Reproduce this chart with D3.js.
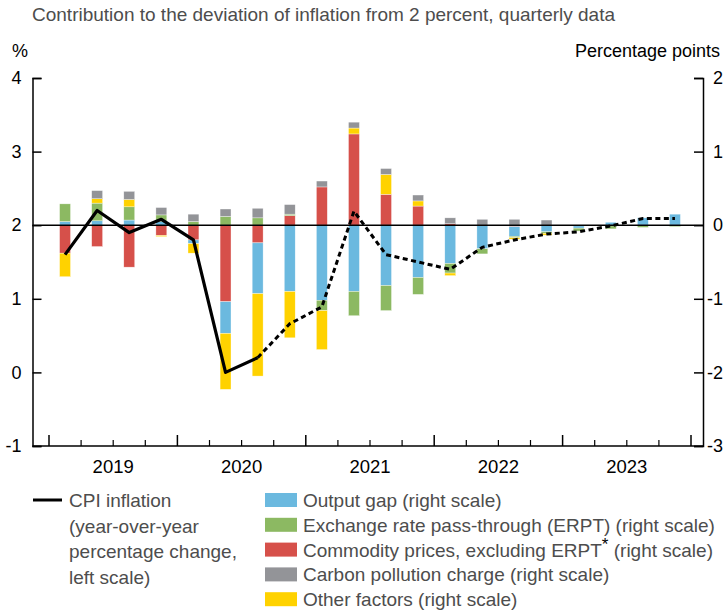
<!DOCTYPE html>
<html>
<head>
<meta charset="utf-8">
<script src="https://cdn.jsdelivr.net/npm/d3@7"></script>
<style>
  body { margin: 0; background: #fff; }
  svg { font-family: "Liberation Sans", Arial, sans-serif; }
</style>
</head>
<body>
<div id="chart"></div>
<script>
// quarters 2019Q1 .. 2023Q4
const quarters = []
for (let y = 2019; y <= 2023; y++) for (let q = 1; q <= 4; q++) quarters.push(`${y}Q${q}`)
const years = ['2019', '2020', '2021', '2022', '2023']

// right scale, percentage points
const outputGap = [0.05, 0.06, 0.07, 0.05, -0.05, -0.43, -0.69, -0.90, -1.02, -0.90,
  -0.82, -0.71, -0.52, -0.32, -0.13, -0.09, -0.03, 0.04, 0.10, 0.15]
const erpt = [0.24, 0.24, 0.18, 0.09, 0.05, 0.12, 0.10, 0.02, -0.14, -0.33,
  -0.34, -0.23, -0.13, -0.07, -0.02, -0.02, -0.04, -0.04, -0.03, -0.02]
const commodity = [-0.38, -0.29, -0.57, -0.14, -0.20, -1.04, -0.24, 0.13, 0.52, 1.24,
  0.42, 0.26, 0.02, 0, -0.02, 0, -0.01, -0.01, 0, 0]
const carbon = [0, 0.11, 0.11, 0.10, 0.10, 0.10, 0.13, 0.13, 0.08, 0.08,
  0.08, 0.08, 0.08, 0.08, 0.08, 0.07, 0, 0, 0, 0]
const other = [-0.32, 0.06, 0.10, -0.015, -0.13, -0.76, -1.12, -0.63, -0.53, 0.08,
  0.27, 0.07, -0.035, 0, -0.02, -0.025, 0, 0, 0, 0]

// left scale, y/y %
const cpi = [1.6, 2.2, 1.9, 2.08, 1.8, 0.0, 0.2, 0.66, 0.89, 2.19,
  1.6, 1.5, 1.4, 1.7, 1.8, 1.88, 1.91, 1.99, 2.09, 2.09]
const lastActual = 6 // 2020Q3, projection after

const leftTicks = [-1, 0, 1, 2, 3, 4]
const rightTicks = [-3, -2, -1, 0, 1, 2]

const series = [
  { key: 'commodity', values: commodity, color: '#d6504a' },
  { key: 'outputGap', values: outputGap, color: '#6bb9df' },
  { key: 'erpt', values: erpt, color: '#8cb962' },
  { key: 'other', values: other, color: '#ffd200' },
  { key: 'carbon', values: carbon, color: '#939498' }
]

const legendBars = [
  { label: 'Output gap (right scale)', color: '#6bb9df' },
  { label: 'Exchange rate pass-through (ERPT) (right scale)', color: '#8cb962' },
  { label: 'Commodity prices, excluding ERPT', sup: '*', tail: ' (right scale)', color: '#d6504a' },
  { label: 'Carbon pollution charge (right scale)', color: '#939498' },
  { label: 'Other factors (right scale)', color: '#ffd200' }
]
const cpiLabel = ['CPI inflation', '(year-over-year', 'percentage change,', 'left scale)']

const width = 726, height = 611
const plot = { left: 32.5, right: 703, top: 78, bottom: 446 }
const textGray = '#4d4d4d'

const svg = d3.select('#chart').append('svg')
  .attr('width', width)
  .attr('height', height)

const x = d3.scaleBand()
  .domain(quarters)
  .range([49, 691])
  .paddingInner(0.66)
  .paddingOuter(0.33)

const yLeft = d3.scaleLinear().domain([-1, 4]).range([plot.bottom, plot.top])
const yRight = d3.scaleLinear().domain([-3, 2]).range([plot.bottom, plot.top])

// titles
svg.append('text')
  .attr('x', 32).attr('y', 21)
  .attr('fill', textGray)
  .style('font-size', '19px')
  .text('Contribution to the deviation of inflation from 2 percent, quarterly data')

svg.append('text')
  .attr('x', 12).attr('y', 57)
  .style('font-size', '18px')
  .text('%')

svg.append('text')
  .attr('x', 720).attr('y', 57)
  .attr('text-anchor', 'end')
  .style('font-size', '18px')
  .text('Percentage points')

// stacked bars
const table = quarters.map((q, i) => {
  const row = { quarter: q }
  series.forEach(s => { row[s.key] = s.values[i] })
  return row
})

const stacked = d3.stack()
  .keys(series.map(s => s.key))
  .offset(d3.stackOffsetDiverging)(table)

svg.append('g')
  .selectAll('g')
  .data(stacked)
  .join('g')
  .attr('fill', (d, i) => series[i].color)
  .selectAll('rect')
  .data(d => d.filter(p => p[1] !== p[0]))
  .join('rect')
  .attr('x', d => x(d.data.quarter))
  .attr('width', x.bandwidth())
  .attr('y', d => yRight(d[1]))
  .attr('height', d => yRight(d[0]) - yRight(d[1]))
  .attr('stroke', '#fff')
  .attr('stroke-width', 0.5)
  .attr('stroke-opacity', 0.7)

// zero line
svg.append('line')
  .attr('x1', plot.left).attr('x2', plot.right)
  .attr('y1', yRight(0)).attr('y2', yRight(0))
  .attr('stroke', '#000')
  .attr('stroke-width', 1.5)

// axes
const fmt = d => String(d)

const leftAxis = svg.append('g')
  .attr('transform', `translate(${plot.left},0)`)
  .call(d3.axisLeft(yLeft).tickValues(leftTicks).tickSize(-9).tickPadding(11).tickFormat(fmt))

const rightAxis = svg.append('g')
  .attr('transform', `translate(${plot.right},0)`)
  .call(d3.axisRight(yRight).tickValues(rightTicks).tickSize(-9).tickPadding(5).tickFormat(fmt))

rightAxis.selectAll('text')
  .attr('text-anchor', 'end')
  .attr('x', 20)

;[leftAxis, rightAxis].forEach(g => {
  g.select('.domain').attr('stroke-width', 1.5)
  g.selectAll('line').attr('stroke-width', 1.5)
  g.selectAll('text')
    .attr('fill', '#000')
    .style('font-size', '18px')
    .style('font-family', '"Liberation Sans", Arial, sans-serif')
})

// bottom axis
const xAxis = svg.append('g')
xAxis.append('line')
  .attr('x1', plot.left).attr('x2', plot.right)
  .attr('y1', plot.bottom).attr('y2', plot.bottom)
  .attr('stroke', '#000')
  .attr('stroke-width', 1.5)

const boundaries = d3.range(quarters.length + 1).map(i => ({
  pos: x.range()[0] + i * x.step(),
  major: i % 4 === 0
}))

xAxis.selectAll('.tick')
  .data(boundaries)
  .join('line')
  .attr('class', 'tick')
  .attr('x1', d => d.pos).attr('x2', d => d.pos)
  .attr('y1', plot.bottom)
  .attr('y2', d => plot.bottom - (d.major ? 11 : 6))
  .attr('stroke', '#000')
  .attr('stroke-width', d => d.major ? 1.5 : 1.2)

xAxis.selectAll('.year')
  .data(years)
  .join('text')
  .attr('class', 'year')
  .attr('x', (d, i) => x.range()[0] + (i * 4 + 2) * x.step())
  .attr('y', plot.bottom + 27)
  .attr('text-anchor', 'middle')
  .style('font-size', '18.5px')
  .text(d => d)

// CPI line
const line = d3.line()
  .x(d => x(d.q) + x.bandwidth() / 2)
  .y(d => yLeft(d.v))

const cpiPoints = quarters.map((q, i) => ({ q, v: cpi[i] }))

svg.append('path')
  .datum(cpiPoints.slice(0, lastActual + 1))
  .attr('d', line)
  .attr('fill', 'none')
  .attr('stroke', '#000')
  .attr('stroke-width', 3.2)
  .attr('stroke-linejoin', 'round')

svg.append('path')
  .datum(cpiPoints.slice(lastActual))
  .attr('d', line)
  .attr('fill', 'none')
  .attr('stroke', '#000')
  .attr('stroke-width', 3)
  .attr('stroke-dasharray', '5,3.5')

// legend
const legend = svg.append('g').style('font-size', '19px').attr('fill', textGray)

legend.append('line')
  .attr('x1', 33).attr('x2', 62)
  .attr('y1', 500).attr('y2', 500)
  .attr('stroke', '#000')
  .attr('stroke-width', 3)

legend.selectAll('.cpi')
  .data(cpiLabel)
  .join('text')
  .attr('class', 'cpi')
  .attr('x', 69)
  .attr('y', (d, i) => 507 + i * 25.5)
  .text(d => d)

const items = legend.selectAll('.item')
  .data(legendBars)
  .join('g')
  .attr('class', 'item')
  .attr('transform', (d, i) => `translate(265,${500 + i * 24.8})`)

items.append('rect')
  .attr('x', 0).attr('y', -7)
  .attr('width', 32).attr('height', 14)
  .attr('fill', d => d.color)

items.append('text')
  .attr('x', 38).attr('y', 7)
  .each(function (d) {
    const t = d3.select(this)
    t.append('tspan').text(d.label)
    if (d.sup) {
      t.append('tspan').attr('dy', -7).style('font-size', '17px').attr('fill', '#000').text(d.sup)
      t.append('tspan').attr('dy', 7).text(d.tail)
    }
  })
</script>
</body>
</html>
